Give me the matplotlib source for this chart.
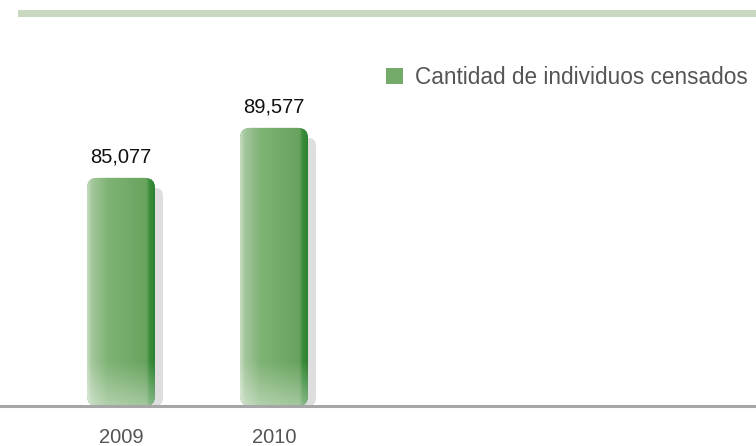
import numpy as np
import matplotlib
matplotlib.use("Agg")
import matplotlib.pyplot as plt
from matplotlib.patches import FancyBboxPatch, Rectangle, Patch
from matplotlib.colors import LinearSegmentedColormap

# Data
years = ["2009", "2010"]
censados = [85077, 89577]
series_name = "Cantidad de individuos censados"

plt.rcParams["font.family"] = ["Liberation Sans", "DejaVu Sans"]

W, H = 756, 446
fig = plt.figure(figsize=(W / 100, H / 100), dpi=100)
ax = fig.add_axes([0, 40 / H, 1, (H - 40) / H])

# scales: one category = 153 px, 90 people per px
px_x = 153.0
base = 64550
x = np.arange(len(years))
ax.set_xlim(-121 / px_x, (W - 121) / px_x)
ax.set_ylim(base, base + (H - 40) * 90)

bar_w = 68 / px_x
aspect = 90 * px_x  # y units per x unit

green = LinearSegmentedColormap.from_list(
    "g", [(0, "#c6dcc0"), (0.07, "#a4c79c"), (0.3, "#7fb375"),
          (0.88, "#68a35e"), (0.92, "#3c8e3c"), (1, "#2f8232")])
white = LinearSegmentedColormap.from_list("w", ["white", "white"])

for xi, v in zip(x, censados):
    x0 = xi - bar_w / 2
    # shadow
    sh = FancyBboxPatch((x0 + 8 / px_x, base), bar_w, v - base - 10 * 90,
                        boxstyle="round,pad=0,rounding_size=%f" % (8 / px_x),
                        mutation_aspect=aspect, fc="#dedede", ec="none", zorder=1)
    ax.add_patch(sh)
    body = FancyBboxPatch((x0, base), bar_w, v - base,
                          boxstyle="round,pad=0,rounding_size=%f" % (10 / px_x),
                          mutation_aspect=aspect, fc="#6aa560", ec="none", zorder=2)
    ax.add_patch(body)
    grad = np.linspace(0, 1, 200).reshape(1, -1)
    im = ax.imshow(grad, cmap=green, aspect="auto", extent=[x0, x0 + bar_w, base, v],
                   zorder=3, interpolation="bilinear")
    im.set_clip_path(body)
    # glossy lower part
    gl = np.linspace(0.4, 0, 100).reshape(-1, 1)
    im2 = ax.imshow(np.ones((100, 1)), cmap=white, alpha=gl, aspect="auto", origin="lower",
                    extent=[x0, x0 + bar_w, base, base + 45 * 90],
                    zorder=4, interpolation="bilinear")
    im2.set_clip_path(body)
    ax.annotate(f"{v:,}", (xi, v), xytext=(0, 11), textcoords="offset points",
                ha="center", va="baseline", fontsize=14.5, color="#111111")

ax.set_xticks(x)
ax.set_xticklabels(years, fontsize=14.5, color="#555555")
ax.tick_params(axis="x", length=0, pad=16)
ax.set_yticks([])
for s in ["top", "left", "right"]:
    ax.spines[s].set_visible(False)
ax.spines["bottom"].set_color("#a6a6a6")
ax.spines["bottom"].set_linewidth(2.2)
ax.spines["bottom"].set_zorder(5)

# top decorative band
fig.patches.append(Rectangle((18 / W, 1 - 17 / H), 1, 7 / H, transform=fig.transFigure,
                             fc="#c9d8c1", ec="none"))

ax.legend([Patch(fc="#74aa6a", ec="none")], [series_name],
          loc="upper left", bbox_to_anchor=(386 / W, 1 - 66 / H), bbox_transform=fig.transFigure,
          frameon=False, borderpad=0, borderaxespad=0, handlelength=0.75, handleheight=0.75,
          handletextpad=0.55, fontsize=16.3, labelcolor="#555555")

fig.savefig("out.png", dpi=100)
